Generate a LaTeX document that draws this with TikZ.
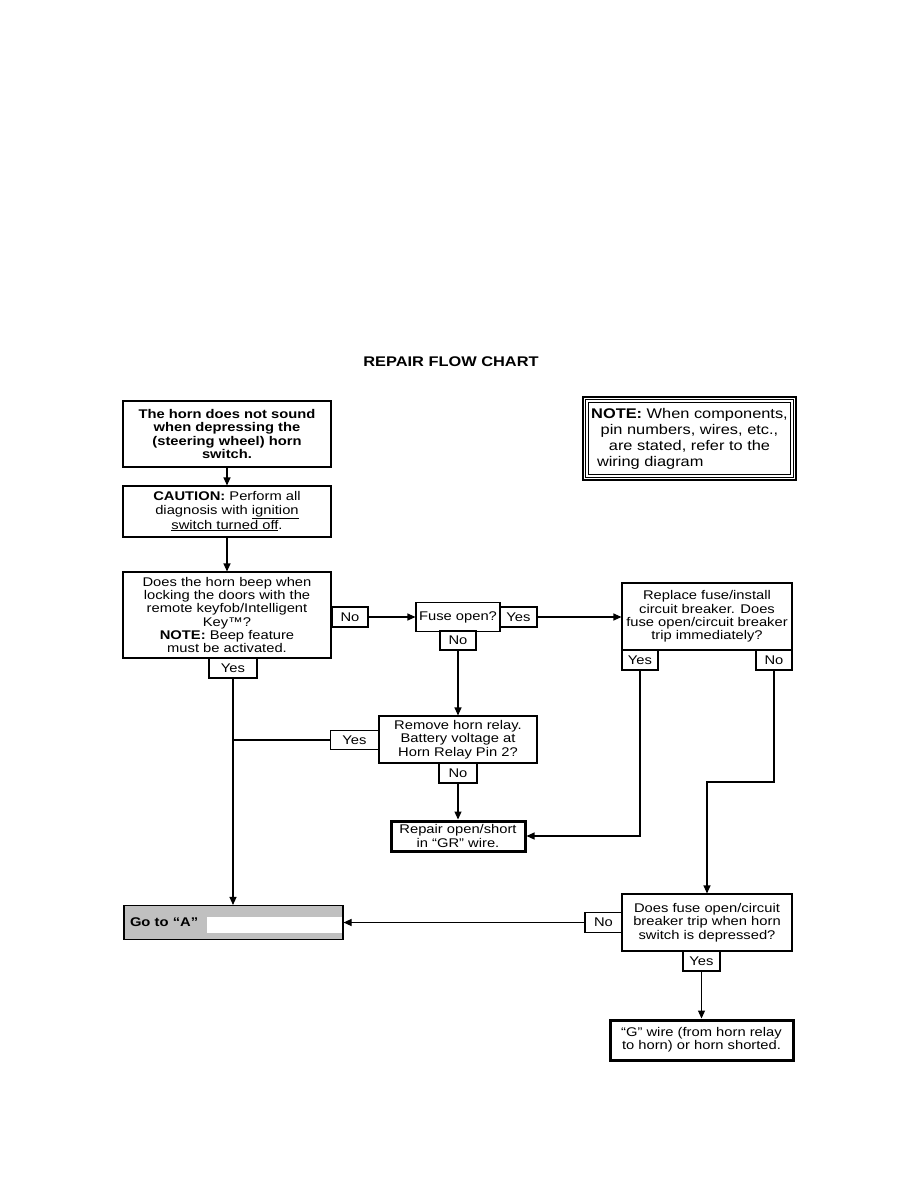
\documentclass[tikz,border=0pt]{standalone}
\usepackage{fontspec}
\setmainfont{Liberation Sans}[FakeStretch=1.17]
\usetikzlibrary{arrows.meta}
\definecolor{boxgray}{RGB}{192,192,192}
\newcommand{\fs}{\fontsize{12.6}{13.3}\selectfont}
\newcommand{\fnote}{\fontsize{14}{16}\selectfont}
\begin{document}
\begin{tikzpicture}[x=1pt,y=-1pt,
  box/.style={draw, line width=1.1pt, align=center, inner sep=0pt, font=\fs},
  thickbox/.style={box, line width=3pt},
  lbl/.style={draw, line width=1.1pt, inner sep=0pt, font=\fs, minimum width=36pt, minimum height=20pt},
  arr/.style={-{Triangle[length=8pt,width=7pt]}, line width=1.1pt},
  conn/.style={line width=1.1pt}]
\useasboundingbox (0,0) rectangle (918,1188);

\node[font=\fontsize{14}{16}\selectfont\bfseries] (title) at (451,362) {REPAIR FLOW CHART};

% note box
\node[draw, line width=2.4pt, minimum width=213pt, minimum height=83pt, inner sep=0pt,
      align=center, font=\fnote] (note) at (689.5,438.5)
  {\textbf{NOTE:} When components,\\pin numbers, wires, etc.,\\are stated, refer to the\\\makebox[185pt][l]{wiring diagram}};
\draw[line width=1pt] ([shift={(3.8,3.8)}]note.north west) rectangle ([shift={(-3.8,-3.8)}]note.south east);
\draw[line width=1pt] ([shift={(6.4,6.4)}]note.north west) rectangle ([shift={(-6.4,-6.4)}]note.south east);

\node[box, font=\fs\bfseries, minimum width=208pt, minimum height=66pt] (box1) at (227,434)
  {The horn does not sound\\when depressing the\\(steering wheel) horn\\switch.};
\node[box, minimum width=208pt, minimum height=51pt] (box2) at (227,511.5)
  {\textbf{CAUTION:} Perform all\\diagnosis with \underline{ignition}\\\underline{switch turned off}.};
\node[box, minimum width=208pt, minimum height=86pt] (box3) at (227,615)
  {Does the horn beep when\\locking the doors with the\\remote keyfob/Intelligent\\Key™?\\\textbf{NOTE:} Beep feature\\must be activated.};

\node[lbl] (no1) at (350,617) {No};
\node[box, minimum width=84pt, minimum height=29pt] (fuse) at (458,617) {Fuse open?};
\node[lbl, minimum width=37pt] (yes1) at (518.5,617) {Yes};
\node[lbl, minimum height=19pt] (no3) at (458,640.5) {No};

\node[box, minimum width=170pt, minimum height=67pt] (replace) at (707,616.5)
  {Replace fuse/install\\circuit breaker. Does\\fuse open/circuit breaker\\trip immediately?};
\node[lbl] (yes2) at (640,660) {Yes};
\node[lbl] (no2) at (774,660) {No};

\node[box, minimum width=158pt, minimum height=47pt] (remove) at (458,739.5)
  {Remove horn relay.\\Battery voltage at\\Horn Relay Pin 2?};
\node[lbl, minimum width=48pt, minimum height=19pt] (yes3) at (354.5,740) {Yes};
\node[lbl, minimum width=38pt] (no4) at (458,773) {No};

\node[thickbox, minimum width=134pt, minimum height=30pt] (repair) at (458,836)
  {Repair open/short\\in “GR” wire.};

\node[lbl, minimum width=48pt] (yes4) at (233,668) {Yes};

\node[box, fill=boxgray, minimum width=219pt, minimum height=34pt, text width=207pt,
      align=left, font=\fs\bfseries] (goto) at (233.5,922.5) {Go to “A”};
\fill[white] (207,917) rectangle (342.4,933);

\node[lbl, minimum width=37pt] (no5) at (603.5,922.5) {No};
\node[box, minimum width=170pt, minimum height=57pt] (doesfuse) at (707,922.5)
  {Does fuse open/circuit\\breaker trip when horn\\switch is depressed?};
\node[lbl, minimum width=37pt] (yes5) at (701.5,961) {Yes};

\node[thickbox, minimum width=183pt, minimum height=40pt] (gwire) at (701.5,1040)
  {“G” wire (from horn relay\\to horn) or horn shorted.};

\coordinate (bend) at (0,782);

% connectors
\draw[arr] (box1.south) -- (box2.north);
\draw[arr] (box2.south) -- (box3.north);
\draw[arr] (no1.east) -- (no1.east -| fuse.west);
\draw[arr] (yes1.east) -- (yes1.east -| replace.west);
\draw[arr] (no3.south) -- (no3.south |- remove.north);
\draw[conn] (yes3.west) -- (yes3.west -| yes4.south);
\draw[arr] (no4.south) -- (repair.north);
\draw[arr] (yes2.south) |- (repair.east);
\draw[arr] (yes4.south) -- (yes4.south |- goto.north);
\draw[arr] (no2.south) -- (no2.south |- bend) -- (doesfuse.north |- bend) -- (doesfuse.north);
\draw[arr] (no5.west) -- (no5.west -| goto.east);
\draw[arr] (yes5.south) -- (gwire.north);
\end{tikzpicture}
\end{document}
